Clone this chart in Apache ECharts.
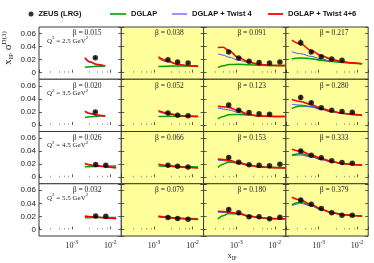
<!DOCTYPE html>
<html><head><meta charset="utf-8">
<script src="https://cdn.jsdelivr.net/npm/echarts@6/dist/echarts.min.js"></script>
<style>html,body{margin:0;padding:0;background:#fff}#c{width:374px;height:263px}</style>
</head><body><div id="c"></div>
<script>
// ---- labels ----
const q2Labels = ['2.5', '3.5', '4.5', '5.5'];
const betaLabels = [
  ['0.015', '0.038', '0.091', '0.217'],
  ['0.020', '0.052', '0.123', '0.280'],
  ['0.026', '0.066', '0.153', '0.333'],
  ['0.032', '0.079', '0.180', '0.379']
];
const yTickLabels = ['0', '0.02', '0.04', '0.06'];

// ---- curve x grids (per column) ----
const curveX1a = [0.0022, 0.0031, 0.0044, 0.0074];
const curveX1b = [0.0022, 0.0042, 0.0077, 0.0143];
const curveX2 = [0.0013, 0.0023, 0.0041, 0.0077, 0.014];
const curveX3 = [0.00033, 0.00045, 0.00063, 0.00115, 0.00214, 0.0039, 0.0073, 0.0136, 0.019];
const curveX4 = [0.0002, 0.00034, 0.00064, 0.00117, 0.00218, 0.00405, 0.0075, 0.0135];

// ---- Q2 = 2.5 ----
const zeusX_1 = [[0.0041], [0.0023, 0.0041, 0.0077], [0.00063, 0.00115, 0.00214, 0.0039, 0.0073, 0.0136], [0.00034, 0.00064, 0.00117, 0.00218, 0.00405]];
const zeusY_1 = [[0.023], [0.020, 0.0163, 0.0148], [0.0317, 0.0225, 0.0174, 0.0158, 0.0148, 0.0163], [0.046, 0.0317, 0.0246, 0.021, 0.019]];
const zeusE_1 = [[0.002], [0.0015, 0.0012, 0.0012], [0.002, 0.0015, 0.0012, 0.0012, 0.0012, 0.0015], [0.005, 0.002, 0.0015, 0.0012, 0.0012]];
const dglap_1 = [[0.0085, 0.0092, 0.0098, 0.0106], [0.0097, 0.0100, 0.0102, 0.0103, 0.0103], [0.0077, 0.0105, 0.0125, 0.0128, 0.0122, 0.0116, 0.0112, 0.011, 0.011], [0.0215, 0.0225, 0.0215, 0.019, 0.0172, 0.0158, 0.0145, 0.0138]];
const tw4_1 = [[0.021, 0.0155, 0.0125, 0.0106], [0.0215, 0.0165, 0.0125, 0.0108, 0.0099], [0.029, 0.027, 0.024, 0.019, 0.0155, 0.013, 0.0115, 0.011, 0.011], [0.032, 0.029, 0.025, 0.021, 0.018, 0.016, 0.0145, 0.0138]];
const tw46_1 = [[0.023, 0.0165, 0.0128, 0.0104], [0.024, 0.018, 0.0128, 0.0108, 0.0097], [0.0385, 0.039, 0.034, 0.023, 0.0163, 0.0128, 0.0112, 0.0108, 0.0108], [0.050, 0.044, 0.034, 0.026, 0.0205, 0.017, 0.015, 0.0138]];

// ---- Q2 = 3.5 ----
const zeusX_2 = [[0.0041], [0.0023, 0.0041, 0.0077], [0.00063, 0.00115, 0.00214, 0.0039, 0.0073], [0.00034, 0.00064, 0.00117, 0.00218, 0.00405, 0.0075]];
const zeusY_2 = [[0.020], [0.0185, 0.015, 0.014], [0.0304, 0.0227, 0.0191, 0.017, 0.0165], [0.0422, 0.0339, 0.0262, 0.0227, 0.0207, 0.0196]];
const zeusE_2 = [[0.0015], [0.0012, 0.001, 0.001], [0.002, 0.0015, 0.0012, 0.0012, 0.0012], [0.004, 0.002, 0.0015, 0.0012, 0.0012, 0.0012]];
const dglap_2 = [[0.0115, 0.0125, 0.0135, 0.0145], [0.013, 0.0132, 0.0133, 0.0133, 0.0133], [0.0093, 0.013, 0.0158, 0.0162, 0.0152, 0.014, 0.0132, 0.013, 0.013], [0.0253, 0.029, 0.028, 0.024, 0.0205, 0.018, 0.0162, 0.015]];
const tw4_2 = [[0.0196, 0.0168, 0.0148, 0.0137], [0.020, 0.017, 0.0147, 0.0135, 0.013], [0.026, 0.0245, 0.023, 0.019, 0.0155, 0.0135, 0.013, 0.013, 0.013], [0.0315, 0.0305, 0.028, 0.024, 0.0205, 0.018, 0.0162, 0.015]];
const tw46_2 = [[0.0212, 0.0175, 0.015, 0.0135], [0.0216, 0.0178, 0.0148, 0.0133, 0.0128], [0.0284, 0.028, 0.027, 0.0216, 0.016, 0.0135, 0.013, 0.013, 0.013], [0.039, 0.036, 0.031, 0.0255, 0.021, 0.018, 0.0162, 0.015]];

// ---- Q2 = 4.5 ----
const zeusX_3 = [[0.0042, 0.0077], [0.0023, 0.0041, 0.0077], [0.00063, 0.00115, 0.00214, 0.0039, 0.0073, 0.0136], [0.00034, 0.00064, 0.00117, 0.00218, 0.00405, 0.0075]];
const zeusY_3 = [[0.0195, 0.0185], [0.0185, 0.0169, 0.0158], [0.0303, 0.0231, 0.0189, 0.0185, 0.0174, 0.020], [0.040, 0.0338, 0.0297, 0.0251, 0.0226, 0.0215]];
const zeusE_3 = [[0.0012, 0.0012], [0.0012, 0.001, 0.001], [0.002, 0.0015, 0.0012, 0.0012, 0.0012, 0.0015], [0.003, 0.002, 0.0015, 0.0012, 0.0012, 0.0012]];
const dglap_3 = [[0.0159, 0.0165, 0.0168, 0.017], [0.017, 0.0168, 0.0164, 0.016, 0.0158], [0.0149, 0.020, 0.0232, 0.022, 0.0185, 0.016, 0.015, 0.0146, 0.0145], [0.034, 0.036, 0.032, 0.0275, 0.0237, 0.021, 0.0195, 0.0185]];
const tw4_3 = [[0.020, 0.0175, 0.016, 0.015], [0.0195, 0.0176, 0.0162, 0.015, 0.0145], [0.026, 0.0255, 0.0245, 0.021, 0.018, 0.0158, 0.0149, 0.0144, 0.0143], [0.0328, 0.034, 0.031, 0.027, 0.0235, 0.021, 0.0195, 0.0185]];
const tw46_3 = [[0.021, 0.0178, 0.0158, 0.0143], [0.020, 0.0178, 0.0162, 0.0148, 0.0142], [0.0277, 0.027, 0.026, 0.022, 0.0185, 0.0158, 0.0149, 0.0144, 0.0143], [0.043, 0.040, 0.034, 0.0285, 0.024, 0.021, 0.0195, 0.0185]];

// ---- Q2 = 5.5 ----
const zeusX_4 = [[0.0042, 0.0077], [0.0023, 0.0041, 0.0077], [0.00063, 0.00115, 0.00214, 0.0039, 0.0073, 0.0136], [0.00034, 0.00064, 0.00117, 0.00218, 0.00405, 0.0075]];
const zeusY_4 = [[0.0208, 0.0204], [0.0184, 0.0168, 0.0158], [0.0307, 0.0255, 0.0193, 0.0193, 0.0163, 0.0188], [0.045, 0.0388, 0.0322, 0.0255, 0.0219, 0.0219]];
const zeusE_4 = [[0.0012, 0.0012], [0.0012, 0.001, 0.001], [0.002, 0.0015, 0.0012, 0.0012, 0.0012, 0.0015], [0.003, 0.002, 0.0015, 0.0012, 0.0012, 0.0012]];
const dglap_4 = [[0.0178, 0.0182, 0.0184, 0.0185], [0.0195, 0.0186, 0.0175, 0.0167, 0.0163], [0.0158, 0.021, 0.0245, 0.024, 0.0205, 0.0184, 0.0168, 0.0164, 0.0163], [0.038, 0.0415, 0.037, 0.0305, 0.0258, 0.023, 0.0215, 0.0204]];
const tw4_4 = [[0.020, 0.019, 0.0178, 0.017], [0.020, 0.0183, 0.0171, 0.0162, 0.0158], [0.0265, 0.026, 0.0255, 0.0235, 0.020, 0.0182, 0.0168, 0.0163, 0.0163], [0.0362, 0.040, 0.036, 0.030, 0.0255, 0.023, 0.0215, 0.0204]];
const tw46_4 = [[0.0204, 0.019, 0.0175, 0.0163], [0.0204, 0.0185, 0.017, 0.016, 0.0155], [0.028, 0.0275, 0.0268, 0.0245, 0.0204, 0.0184, 0.0168, 0.0163, 0.0163], [0.0492, 0.045, 0.038, 0.031, 0.026, 0.023, 0.0215, 0.0204]];

const zeusX = [zeusX_1, zeusX_2, zeusX_3, zeusX_4];
const zeusY = [zeusY_1, zeusY_2, zeusY_3, zeusY_4];
const zeusE = [zeusE_1, zeusE_2, zeusE_3, zeusE_4];
const dglap = [dglap_1, dglap_2, dglap_3, dglap_4];
const tw4 = [tw4_1, tw4_2, tw4_3, tw4_4];
const tw46 = [tw46_1, tw46_2, tw46_3, tw46_4];

// ---- layout ----
const GL = 39, GT = 27, GW = 82.3, GH = 52.25;
const SERIF = 'Liberation Serif', SANS = 'Liberation Sans';
const YELLOW = '#ffff9c';
const C_GREEN = '#00a000', C_BLUE = '#5050ff', C_RED = '#ff0000';

function curveXFor(r, c) {
  if (c === 0) return r < 2 ? curveX1a : curveX1b;
  return [null, curveX2, curveX3, curveX4][c];
}

const grids = [], xAxes = [], yAxes = [], series = [], graphics = [];
for (let r = 0; r < 4; r++) {
  for (let c = 0; c < 4; c++) {
    const i = r * 4 + c;
    grids.push({
      left: GL + c * GW, top: GT + r * GH, width: GW, height: GH,
      show: true, backgroundColor: c === 0 ? '#ffffff' : YELLOW,
      borderColor: '#3a3a3a', borderWidth: 1, containLabel: false, outerBoundsMode: 'none'
    });
    xAxes.push({
      type: 'log', logBase: 10, gridIndex: i, min: 1.4e-4, max: 0.0195,
      axisLine: { show: false },
      axisTick: { show: true, inside: true, length: 3, lineStyle: { color: '#333', width: 0.8 } },
      minorTick: { show: true, length: 1.5, lineStyle: { color: '#555', width: 0.6 } },
      splitLine: { show: false }, minorSplitLine: { show: false },
      axisLabel: {
        show: r === 3, margin: 4, showMinLabel: true, showMaxLabel: true, hideOverlap: false,
        formatter: v => {
          const l = Math.log10(v), e = Math.round(l);
          if (Math.abs(l - e) > 1e-6) return '';
          return '{b|10}{s|' + e + '}';
        },
        rich: {
          b: { fontSize: 8, fontFamily: SERIF, color: '#222', verticalAlign: 'bottom', lineHeight: 10 },
          s: { fontSize: 5.5, fontFamily: SERIF, color: '#222', verticalAlign: 'top', lineHeight: 10 }
        }
      }
    });
    const yBase = {
      type: 'value', gridIndex: i, min: -0.01, max: 0.07, splitNumber: 4,
      axisLine: { show: false },
      axisTick: { show: true, inside: true, length: 3, lineStyle: { color: '#333', width: 0.8 } },
      splitLine: { show: false }
    };
    yAxes.push(Object.assign({}, yBase, {
      position: 'left',
      axisLabel: {
        show: c === 0, fontSize: 8, fontFamily: SANS, color: '#222', margin: 3,
        showMinLabel: false, showMaxLabel: false, hideOverlap: false,
        formatter: v => {
          const s = Math.abs(v) < 1e-9 ? '0' : v.toFixed(2);
          return yTickLabels.indexOf(s) >= 0 && Math.abs(v - parseFloat(s)) < 1e-9 ? s : '';
        }
      }
    }));
    yAxes.push(Object.assign({}, yBase, { position: 'right', axisLabel: { show: false } }));

    const cx = curveXFor(r, c);
    const lines = [['DGLAP', dglap, C_GREEN, 1.5], ['DGLAP + Twist 4', tw4, C_BLUE, 1], ['DGLAP + Twist 4+6', tw46, C_RED, 1.6]];
    lines.forEach(([name, arr, col, w], k) => {
      series.push({
        type: 'line', name, xAxisIndex: i, yAxisIndex: 2 * i,
        data: cx.map((x, j) => [x, arr[r][c][j]]),
        smooth: 0.35, smoothMonotone: 'x', symbol: 'none', showSymbol: false,
        itemStyle: { color: col }, lineStyle: { color: col, width: w },
        z: 2 + k, silent: true
      });
    });
    const px = zeusX[r][c], py = zeusY[r][c], pe = zeusE[r][c];
    series.push({
      type: 'scatter', name: 'ZEUS (LRG)', xAxisIndex: i, yAxisIndex: 2 * i,
      data: px.map((x, j) => [x, py[j]]), symbol: 'circle', symbolSize: 5.5,
      itemStyle: { color: '#000' }, z: 10
    });
    series.push({
      type: 'custom', name: 'err', xAxisIndex: i, yAxisIndex: 2 * i,
      data: px.map((x, j) => [x, py[j], pe[j]]), encode: { x: 0, y: 1 }, z: 9,
      renderItem: (params, api) => {
        const x = api.value(0), y = api.value(1), e = api.value(2);
        const a = api.coord([x, y - e]), b = api.coord([x, y + e]);
        return { type: 'line', shape: { x1: a[0], y1: a[1], x2: b[0], y2: b[1] }, style: { stroke: '#000', lineWidth: 1 } };
      }
    });

    graphics.push({
      type: 'text', x: GL + c * GW + GW / 2 + 7, y: GT + r * GH + 6.5, z: 100,
      style: { text: 'β = ' + betaLabels[r][c], font: '7.5px "' + SERIF + '"', fill: '#222', align: 'center', verticalAlign: 'middle' }
    });
    if (c === 0) {
      graphics.push({
        type: 'text', x: GL + 8, y: GT + r * GH + 13, z: 100,
        style: {
          text: '{n|Q}{s|2}{n| = ' + q2Labels[r] + ' GeV}{s|2}', align: 'left', verticalAlign: 'middle',
          rich: {
            n: { fontSize: 7, fontFamily: SERIF, fill: '#222', verticalAlign: 'bottom', lineHeight: 9 },
            s: { fontSize: 5, fontFamily: SERIF, fill: '#222', verticalAlign: 'top', lineHeight: 9 }
          }
        }
      });
    }
  }
}

graphics.push({
  type: 'text', x: 8, y: 48, rotation: Math.PI / 2, z: 100,
  style: {
    text: '{n|x}{b|IP}{n| σ}{p|D(3)}', align: 'center', verticalAlign: 'middle',
    rich: {
      n: { fontSize: 11, fontFamily: SERIF, fill: '#222', verticalAlign: 'middle', lineHeight: 14 },
      b: { fontSize: 7, fontFamily: SERIF, fill: '#222', verticalAlign: 'bottom', lineHeight: 14 },
      p: { fontSize: 7, fontFamily: SERIF, fill: '#222', verticalAlign: 'top', lineHeight: 14 }
    }
  }
});
graphics.push({
  type: 'text', x: 232, y: 256, z: 100,
  style: {
    text: '{n|x}{b|IP}', align: 'center', verticalAlign: 'middle',
    rich: {
      n: { fontSize: 8.5, fontFamily: SERIF, fill: '#222', verticalAlign: 'middle', lineHeight: 12 },
      b: { fontSize: 5.5, fontFamily: SERIF, fill: '#222', verticalAlign: 'bottom', lineHeight: 12 }
    }
  }
});

const legendText = { fontWeight: 'bold', fontSize: 7.5, fontFamily: SANS, color: '#111' };
const legends = [
  { left: 28.5, top: 10, data: ['ZEUS (LRG)'], icon: 'circle', itemWidth: 5, itemHeight: 5 },
  { left: 110, top: 10, data: ['DGLAP'], icon: 'rect', itemWidth: 16, itemHeight: 1.6 },
  { left: 172, top: 10, data: ['DGLAP + Twist 4'], icon: 'rect', itemWidth: 15, itemHeight: 1.2 },
  { left: 268, top: 10, data: ['DGLAP + Twist 4+6'], icon: 'rect', itemWidth: 15, itemHeight: 1.8 }
].map(l => Object.assign({ orient: 'horizontal', padding: 0, itemGap: 0, selectedMode: false, textStyle: legendText }, l));

const chart = echarts.init(document.getElementById('c'), null, { renderer: 'canvas' });
chart.setOption({
  animation: false,
  backgroundColor: '#ffffff',
  legend: legends,
  grid: grids, xAxis: xAxes, yAxis: yAxes, series, graphic: graphics
});
</script>
</body></html>
